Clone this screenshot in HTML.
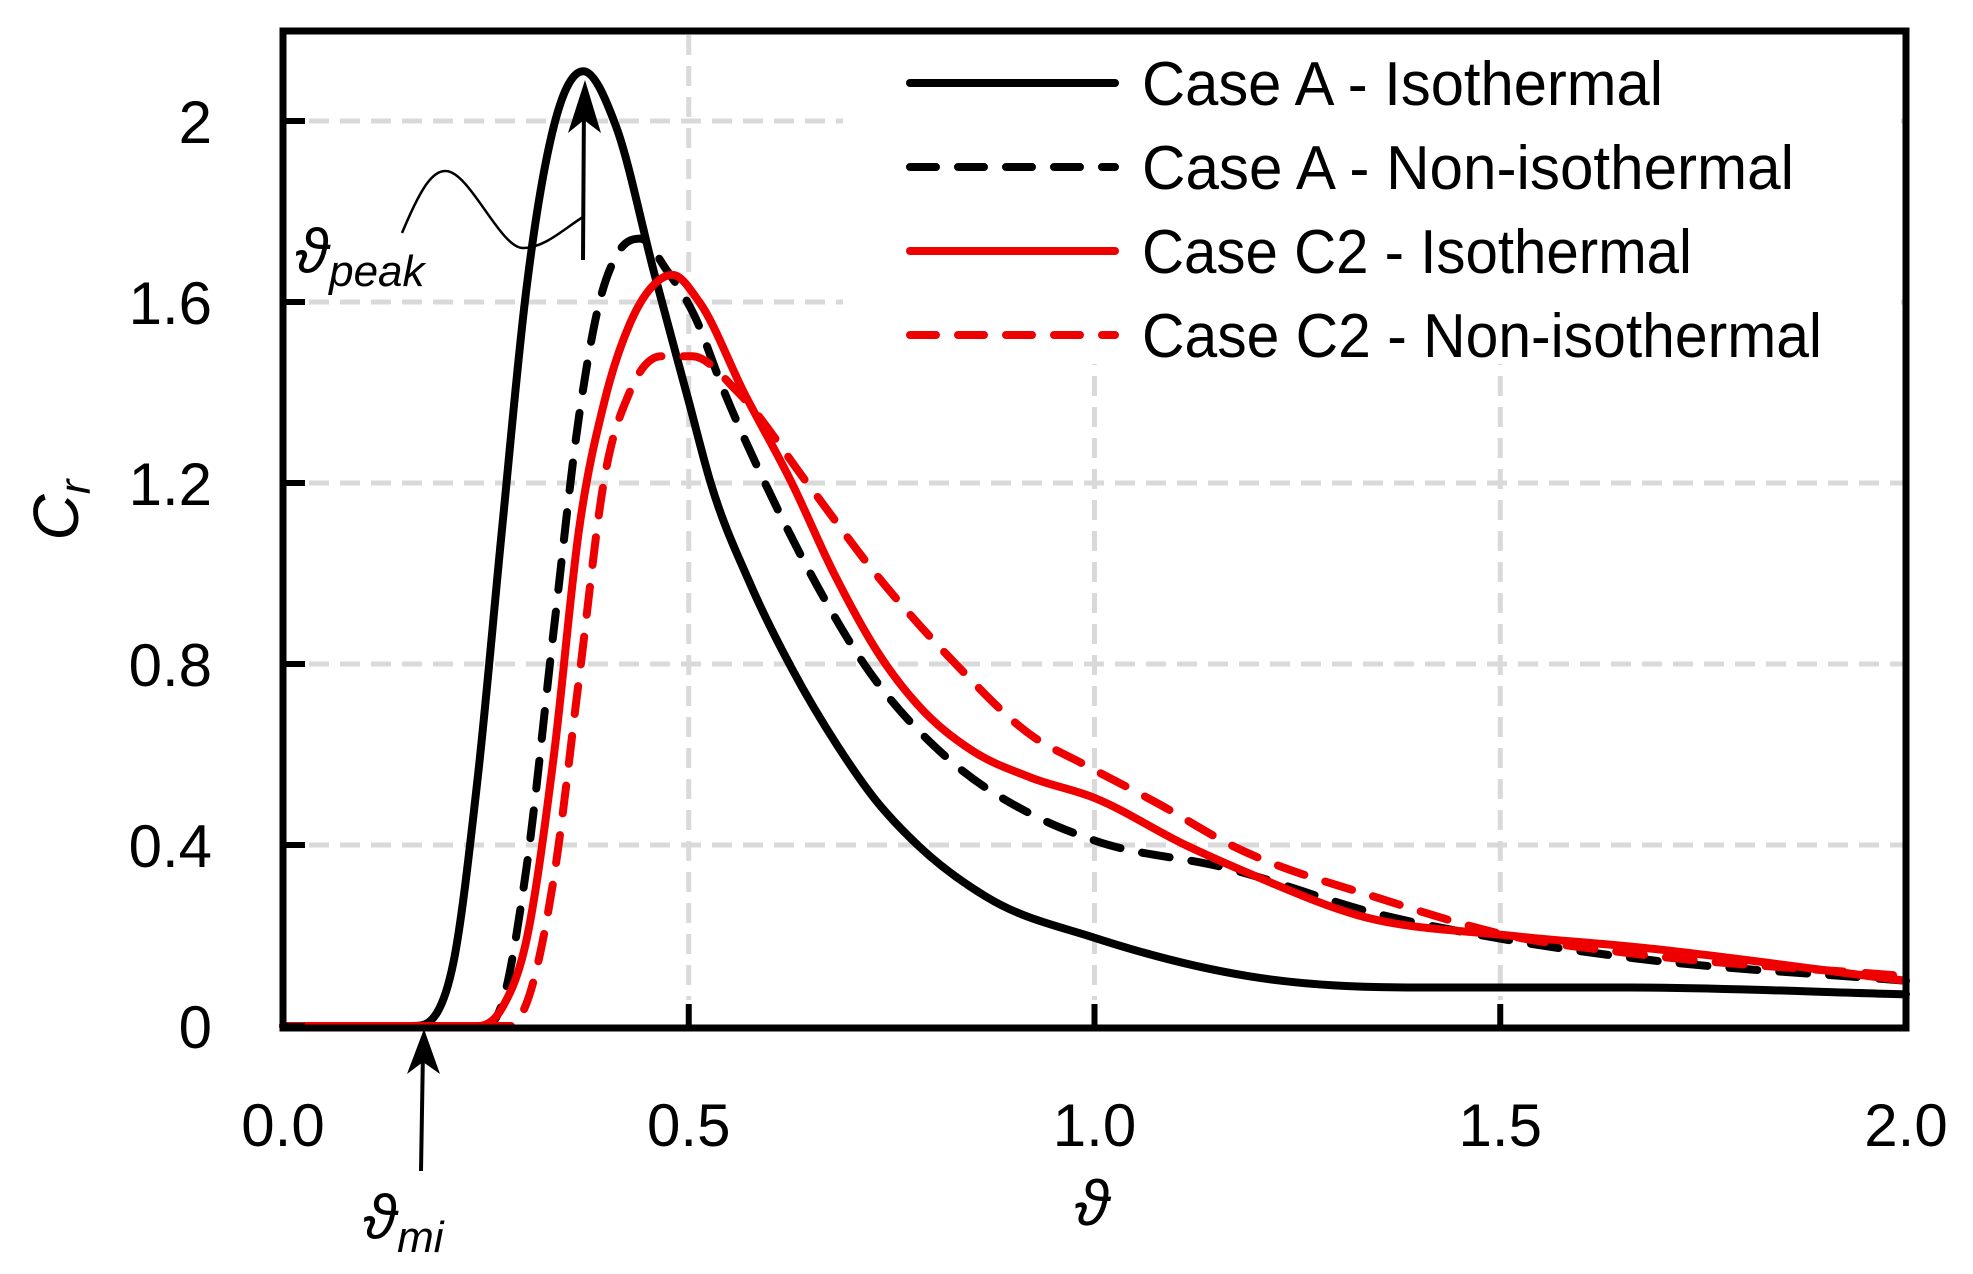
<!DOCTYPE html>
<html><head><meta charset="utf-8">
<style>
html,body{margin:0;padding:0;background:#fff;}
svg{display:block;}
text{font-family:"Liberation Sans",sans-serif;fill:#000;}
</style></head>
<body>
<svg id="chart" width="1973" height="1274" viewBox="0 0 1973 1274" xmlns="http://www.w3.org/2000/svg">
<g id="grid"></g>
<rect x="843" y="34" width="1058" height="330" fill="#fff"/>
<g id="series"></g>
<g id="axes"></g>
<g id="legend"></g>
<g>
  <path d="M402,233 C420,190 432,170 446,171 C470,172 500,248 523,248 C545,248 565,228 583,217" fill="none" stroke="#000" stroke-width="2.5"/>
  <line x1="583" y1="260" x2="584" y2="100" stroke="#000" stroke-width="4"/>
  <polygon points="585,80 568,133 584,120 601,133" fill="#000"/>
  <line x1="421" y1="1171" x2="423" y2="1050" stroke="#000" stroke-width="4"/>
  <polygon points="424,1029 407,1074 423,1062 440,1074" fill="#000"/>
  <text x="295" y="272" font-size="62" font-style="italic">ϑ<tspan font-size="44" dy="14">peak</tspan></text>
  <text x="363" y="1238" font-size="62" font-style="italic">ϑ<tspan font-size="44" dy="14">mi</tspan></text>
  <text x="1092" y="1225" font-size="64" font-style="italic" text-anchor="middle">ϑ</text>
  <text transform="translate(78,510) rotate(-90)" font-size="64" font-style="italic" text-anchor="middle">C<tspan font-size="44" dy="12">r</tspan></text>
</g>
</svg>
<script>
const xTicks = [0, 0.5, 1.0, 1.5, 2.0];
const xTickLabels = ["0.0", "0.5", "1.0", "1.5", "2.0"];
const yTicks = [0, 0.4, 0.8, 1.2, 1.6, 2];
const yTickLabels = ["0", "0.4", "0.8", "1.2", "1.6", "2"];
const seriesNames = ["Case A - Isothermal", "Case A - Non-isothermal", "Case C2 - Isothermal", "Case C2 - Non-isothermal"];
const caseAIsoX = [0, 0.16, 0.19, 0.21, 0.24, 0.27, 0.30, 0.334, 0.37, 0.41, 0.458, 0.5, 0.527, 0.575, 0.627, 0.683, 0.73, 0.782, 0.867, 1.0, 1.19, 1.4, 1.66, 2.0];
const caseAIsoY = [0, 0, 0.03, 0.14, 0.55, 1.10, 1.63, 1.99, 2.11, 1.99, 1.66, 1.38, 1.20, 0.98, 0.79, 0.62, 0.50, 0.40, 0.285, 0.195, 0.11, 0.085, 0.085, 0.07];
const caseANonX = [0, 0.25, 0.27, 0.30, 0.334, 0.365, 0.39, 0.41, 0.44, 0.473, 0.507, 0.544, 0.594, 0.65, 0.716, 0.82, 0.92, 1.0, 1.16, 1.355, 1.51, 1.664, 2.0];
const caseANonY = [0, 0, 0.05, 0.35, 0.88, 1.35, 1.60, 1.70, 1.74, 1.67, 1.57, 1.40, 1.20, 1.00, 0.80, 0.59, 0.47, 0.41, 0.35, 0.245, 0.19, 0.15, 0.10];
const caseC2IsoX = [0, 0.24, 0.27, 0.30, 0.334, 0.365, 0.396, 0.427, 0.458, 0.48, 0.513, 0.568, 0.627, 0.679, 0.735, 0.782, 0.848, 0.92, 1.0, 1.112, 1.2, 1.324, 1.51, 1.664, 2.0];
const caseC2IsoY = [0, 0, 0.04, 0.19, 0.60, 1.10, 1.38, 1.55, 1.64, 1.66, 1.60, 1.40, 1.20, 1.00, 0.82, 0.71, 0.61, 0.55, 0.504, 0.40, 0.33, 0.245, 0.20, 0.175, 0.10];
const caseC2NonX = [0, 0.28, 0.30, 0.334, 0.365, 0.396, 0.427, 0.466, 0.504, 0.561, 0.646, 0.73, 0.829, 0.924, 0.985, 1.08, 1.168, 1.355, 1.51, 1.664, 2.0];
const caseC2NonY = [0, 0, 0.05, 0.33, 0.77, 1.21, 1.40, 1.48, 1.48, 1.40, 1.20, 1.00, 0.80, 0.64, 0.58, 0.49, 0.40, 0.28, 0.20, 0.16, 0.11];

const NS = "http://www.w3.org/2000/svg";
const X0 = 283, X1 = 1906, Y0 = 1026, Y1 = 31;
function xs(v){ return X0 + v / 2.0 * (X1 - X0); }
function ys(v){ return Y0 - v / 2.0 * (Y0 - 121); }
function mk(tag, attrs, parent){ const e = document.createElementNS(NS, tag); for (const k in attrs) e.setAttribute(k, attrs[k]); parent.appendChild(e); return e; }

const grid = document.getElementById('grid');
yTicks.forEach((t, i) => {
  if (t === 0) return;
  const l = mk('line', {x1: X0 + 26, x2: X1, y1: ys(t), y2: ys(t), stroke: '#d9d9d9', 'stroke-width': 5, 'stroke-dasharray': '20 11'}, grid);
  
  
});
xTicks.forEach((t, i) => {
  if (t === 0 || t === 2) return;
  const l = mk('line', {x1: xs(t), x2: xs(t), y1: Y1 + 4, y2: Y0 - 26, stroke: '#d9d9d9', 'stroke-width': 5, 'stroke-dasharray': '20 11'}, grid);
  
  
});

function monotone(px, py){
  const n = px.length, d = [], m = new Array(n);
  for (let i = 0; i < n - 1; i++) d.push((py[i+1] - py[i]) / (px[i+1] - px[i]));
  m[0] = d[0]; m[n-1] = d[n-2];
  for (let i = 1; i < n - 1; i++){
    if (d[i-1] * d[i] <= 0) { m[i] = 0; continue; }
    const h0 = px[i] - px[i-1], h1 = px[i+1] - px[i];
    m[i] = (h1 * d[i-1] + h0 * d[i]) / (h0 + h1);
  }
  for (let i = 0; i < n - 1; i++){
    if (d[i] === 0){ m[i] = 0; m[i+1] = 0; continue; }
    const a = m[i] / d[i], b = m[i+1] / d[i], s = a*a + b*b;
    if (s > 9){ const t = 3 / Math.sqrt(s); m[i] = t*a*d[i]; m[i+1] = t*b*d[i]; }
  }
  let p = `M${px[0].toFixed(1)},${py[0].toFixed(1)}`;
  for (let i = 0; i < n - 1; i++){
    const h = (px[i+1] - px[i]) / 3;
    p += ` C${(px[i]+h).toFixed(1)},${(py[i]+m[i]*h).toFixed(1)} ${(px[i+1]-h).toFixed(1)},${(py[i+1]-m[i+1]*h).toFixed(1)} ${px[i+1].toFixed(1)},${py[i+1].toFixed(1)}`;
  }
  return p;
}
const series = document.getElementById('series');
const styles = [
  {c:'#000', dash:null, xsD:caseAIsoX, ysD:caseAIsoY, n:'series-case-a-isothermal'},
  {c:'#000', dash:'28 22', xsD:caseANonX, ysD:caseANonY, n:'series-case-a-non-isothermal'},
  {c:'#ee0000', dash:null, xsD:caseC2IsoX, ysD:caseC2IsoY, n:'series-case-c2-isothermal'},
  {c:'#ee0000', dash:'28 22', xsD:caseC2NonX, ysD:caseC2NonY, n:'series-case-c2-non-isothermal'}
];
styles.forEach(s => {
  const p = mk('path', {d: monotone(s.xsD.map(xs), s.ysD.map(ys)), fill: 'none', stroke: s.c, 'stroke-width': 8, 'stroke-linecap': 'round', 'stroke-linejoin': 'round'}, series);
  if (s.dash) p.setAttribute('stroke-dasharray', s.dash);
  
  
});

const axes = document.getElementById('axes');
const frame = mk('rect', {x: X0, y: Y1, width: X1 - X0, height: Y0 - Y1 + 2, fill: 'none', stroke: '#000', 'stroke-width': 7}, axes);


yTicks.forEach((t, i) => {
  const tk = mk('line', {x1: X0, x2: X0 + 22, y1: ys(t), y2: ys(t), stroke: '#000', 'stroke-width': 6}, axes);
  
  
  const tx = mk('text', {x: 212, y: ys(t) + 22, 'font-size': 60, 'text-anchor': 'end'}, axes);
  tx.textContent = yTickLabels[i];
  
  
});
xTicks.forEach((t, i) => {
  const tk = mk('line', {x1: xs(t), x2: xs(t), y1: Y0, y2: Y0 - 22, stroke: '#000', 'stroke-width': 6}, axes);
  
  
  const tx = mk('text', {x: xs(t), y: 1146, 'font-size': 60, 'text-anchor': 'middle'}, axes);
  tx.textContent = xTickLabels[i];
  
  
});

const legend = document.getElementById('legend');
const legendWidths = [521, 652, 550, 680];
styles.forEach((s, i) => {
  const ly = 83 + i * 84;
  const g = mk('g', {}, legend);
  
  
  const l = mk('line', {x1: 910, x2: 1115, y1: ly, y2: ly, stroke: s.c, 'stroke-width': 8, 'stroke-linecap': 'round'}, g);
  if (s.dash) l.setAttribute('stroke-dasharray', '26 22');
  
  
  const t = mk('text', {x: 1142, y: ly + 22, 'font-size': 62, textLength: legendWidths[i], lengthAdjust: 'spacingAndGlyphs'}, g);
  t.textContent = seriesNames[i];
  
  
});
</script>
</body></html>
